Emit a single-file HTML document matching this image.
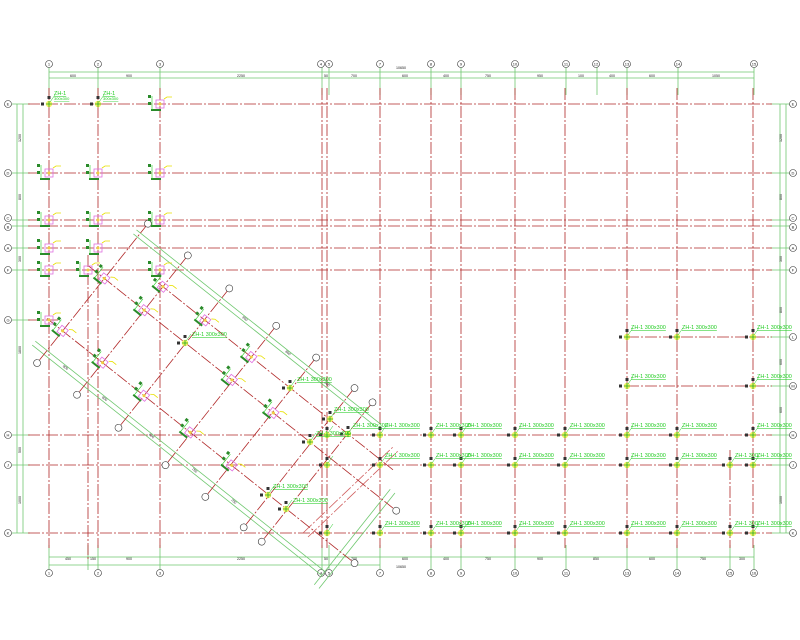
<!DOCTYPE html>
<html><head><meta charset="utf-8"><style>
html,body{margin:0;padding:0;background:#fff;}
svg{display:block;font-family:"Liberation Sans",sans-serif;}
.g{stroke:#b02828;stroke-width:0.8;stroke-dasharray:12 2 2 2;fill:none}
.d{stroke:#70c870;stroke-width:0.8;fill:none}
.c{fill:#fff;stroke:#333;stroke-width:0.6}
.t{font-size:4px;fill:#222;text-anchor:middle}
.lb{font-size:5.5px;fill:#22cc22;text-decoration:underline}
</style></head><body>
<svg width="800" height="640" viewBox="0 0 800 640" xmlns="http://www.w3.org/2000/svg">
<defs>
<g id="pc"><rect x="-4" y="-4" width="8" height="8" fill="none" stroke="#e070e0" stroke-width="0.8"/><circle r="1.5" fill="#f0d040"/><path d="M4,-5 l3,-2 h5" stroke="#e8e000" stroke-width="0.8" fill="none"/><rect x="-12" y="-9" width="3" height="3" fill="#2a8a2a"/><rect x="-12" y="-2" width="3" height="3" fill="#2a8a2a"/><rect x="-9" y="5" width="10" height="2" fill="#2a8a2a"/><path d="M-8,-8 v14" stroke="#22cc22" stroke-width="0.6"/></g>
<g id="yc"><circle r="3.2" fill="#f6f060"/><path d="M-3,0 h6 M0,-3 v6" stroke="#22aa22" stroke-width="0.8"/><rect x="-8" y="-1.5" width="3" height="3" fill="#333"/><rect x="-1.5" y="-8" width="3" height="3" fill="#333"/><path d="M1,-2 l5,-7" stroke="#22cc22" stroke-width="0.5"/></g>
</defs>

<g class="d">
<path d="M49,72 H754 M49,78 H754 M49,557 H754 M49,565 H380"/>
<path d="M17,104 V533 M23,104 V533 M780,104 V533 M786,104 V533"/>
<path d="M49,64 V95 M98,64 V95 M160,64 V95 M322,64 V95 M329,64 V95 M380,64 V95 M431,64 V95 M461,64 V95 M515,64 V95 M566,64 V95 M627,64 V95 M678,64 V95 M754,64 V95 M597,64 V95"/>
<path d="M49,545 V570 M88,545 V570 M98,545 V570 M160,545 V570 M322,545 V570 M329,545 V570 M380,545 V570 M431,545 V570 M461,545 V570 M515,545 V570 M566,545 V570 M627,545 V570 M677,545 V570 M730,545 V570 M754,545 V570"/>
<path d="M12,104 H30 M12,173 H30 M12,220 H30 M12,226 H30 M12,248 H30 M12,270 H30 M12,320 H30 M12,435 H30 M12,465 H30 M12,533 H30"/>
<path d="M770,104 H790 M770,173 H790 M770,220 H790 M770,226 H790 M770,248 H790 M770,270 H790 M770,337 H790 M770,386 H790 M770,435 H790 M770,465 H790 M770,533 H790"/>
</g>

<g class="g">
<path d="M49,88 V548 M98,88 V548 M160,88 V548 M322,88 V548 M327,88 V548 M380,88 V548 M431,88 V548 M461,88 V548 M515,88 V548 M565,88 V548 M627,88 V548 M677,88 V548 M753,88 V548 M88,255 V560 M730,450 V548"/>
<path d="M28,104 H772 M28,173 H772 M28,220 H772 M28,226 H772 M28,248 H772 M28,270 H772 M28,320 H60 M627,337 H772 M627,386 H772 M28,435 H772 M28,465 H772 M28,533 H772"/>
<path d="M303,533 L393,447 M308,537 L398,451" style="stroke:#d06060"/>
</g>

<g>
<g class="c"><circle cx="49" cy="64" r="3.5"/><circle cx="98" cy="64" r="3.5"/><circle cx="160" cy="64" r="3.5"/><circle cx="321" cy="64" r="3.5"/><circle cx="329" cy="64" r="3.5"/><circle cx="380" cy="64" r="3.5"/><circle cx="431" cy="64" r="3.5"/><circle cx="461" cy="64" r="3.5"/><circle cx="515" cy="64" r="3.5"/><circle cx="566" cy="64" r="3.5"/><circle cx="596" cy="64" r="3.5"/><circle cx="627" cy="64" r="3.5"/><circle cx="678" cy="64" r="3.5"/><circle cx="754" cy="64" r="3.5"/>
<circle cx="49" cy="573" r="3.5"/><circle cx="98" cy="573" r="3.5"/><circle cx="160" cy="573" r="3.5"/><circle cx="321" cy="573" r="3.5"/><circle cx="329" cy="573" r="3.5"/><circle cx="380" cy="573" r="3.5"/><circle cx="431" cy="573" r="3.5"/><circle cx="461" cy="573" r="3.5"/><circle cx="515" cy="573" r="3.5"/><circle cx="566" cy="573" r="3.5"/><circle cx="627" cy="573" r="3.5"/><circle cx="677" cy="573" r="3.5"/><circle cx="730" cy="573" r="3.5"/><circle cx="754" cy="573" r="3.5"/>
<circle cx="8" cy="104" r="3.5"/><circle cx="8" cy="173" r="3.5"/><circle cx="8" cy="218" r="3.5"/><circle cx="8" cy="227" r="3.5"/><circle cx="8" cy="248" r="3.5"/><circle cx="8" cy="270" r="3.5"/><circle cx="8" cy="320" r="3.5"/><circle cx="8" cy="435" r="3.5"/><circle cx="8" cy="465" r="3.5"/><circle cx="8" cy="533" r="3.5"/>
<circle cx="793" cy="104" r="3.5"/><circle cx="793" cy="173" r="3.5"/><circle cx="793" cy="218" r="3.5"/><circle cx="793" cy="227" r="3.5"/><circle cx="793" cy="248" r="3.5"/><circle cx="793" cy="270" r="3.5"/><circle cx="793" cy="337" r="3.5"/><circle cx="793" cy="386" r="3.5"/><circle cx="793" cy="435" r="3.5"/><circle cx="793" cy="465" r="3.5"/><circle cx="793" cy="533" r="3.5"/></g>
<g class="t"><text x="49" y="65.5">1</text><text x="98" y="65.5">2</text><text x="160" y="65.5">3</text><text x="321" y="65.5">4</text><text x="329" y="65.5">5</text><text x="380" y="65.5">7</text><text x="431" y="65.5">8</text><text x="461" y="65.5">9</text><text x="515" y="65.5">10</text><text x="566" y="65.5">11</text><text x="596" y="65.5">12</text><text x="627" y="65.5">13</text><text x="678" y="65.5">14</text><text x="754" y="65.5">15</text>
<text x="49" y="574.5">1</text><text x="98" y="574.5">2</text><text x="160" y="574.5">3</text><text x="321" y="574.5">4</text><text x="329" y="574.5">5</text><text x="380" y="574.5">7</text><text x="431" y="574.5">8</text><text x="461" y="574.5">9</text><text x="515" y="574.5">10</text><text x="566" y="574.5">11</text><text x="627" y="574.5">13</text><text x="677" y="574.5">14</text><text x="730" y="574.5">15</text><text x="754" y="574.5">16</text>
<text x="8" y="105.5">E</text><text x="8" y="174.5">D</text><text x="8" y="219.5">C</text><text x="8" y="228.5">B</text><text x="8" y="249.5">A</text><text x="8" y="271.5">F</text><text x="8" y="321.5">G</text><text x="8" y="436.5">H</text><text x="8" y="466.5">J</text><text x="8" y="534.5">K</text>
<text x="793" y="105.5">E</text><text x="793" y="174.5">D</text><text x="793" y="219.5">C</text><text x="793" y="228.5">B</text><text x="793" y="249.5">A</text><text x="793" y="271.5">F</text><text x="793" y="338.5">L</text><text x="793" y="387.5">M</text><text x="793" y="436.5">H</text><text x="793" y="466.5">J</text><text x="793" y="534.5">K</text></g>
</g>

<g class="t" style="font-size:3.6px">
<text x="401" y="69">10650</text>
<text x="73" y="77">600</text><text x="129" y="77">900</text><text x="241" y="77">2250</text><text x="326" y="77">50</text><text x="354" y="77">700</text><text x="405" y="77">600</text><text x="446" y="77">400</text><text x="488" y="77">750</text><text x="540" y="77">950</text><text x="581" y="77">100</text><text x="612" y="77">400</text><text x="652" y="77">600</text><text x="716" y="77">1050</text>
<text x="68" y="560">450</text><text x="93" y="560">150</text><text x="129" y="560">900</text><text x="241" y="560">2250</text><text x="326" y="560">50</text><text x="354" y="560">700</text><text x="405" y="560">600</text><text x="446" y="560">400</text><text x="488" y="560">750</text><text x="540" y="560">900</text><text x="596" y="560">850</text><text x="652" y="560">600</text><text x="703" y="560">750</text><text x="742" y="560">300</text><text x="401" y="568">10650</text>
<text transform="translate(21,138) rotate(-90)">1200</text><text transform="translate(21,197) rotate(-90)">800</text><text transform="translate(21,259) rotate(-90)">300</text><text transform="translate(21,350) rotate(-90)">1800</text><text transform="translate(21,450) rotate(-90)">500</text><text transform="translate(21,500) rotate(-90)">1000</text>
<text transform="translate(782,138) rotate(-90)">1200</text><text transform="translate(782,197) rotate(-90)">800</text><text transform="translate(782,259) rotate(-90)">300</text><text transform="translate(782,310) rotate(-90)">800</text><text transform="translate(782,362) rotate(-90)">600</text><text transform="translate(782,410) rotate(-90)">600</text><text transform="translate(782,500) rotate(-90)">1000</text>
</g>

<g transform="rotate(38.5)">
<g class="d"><path d="M250,95 H560 M250,100 H560 M240,245 H610 M240,250 H610 M610,140 V262 M616,140 V262"/></g>
<g class="g"><path d="M300,123 H600 M235,153 H624 M235,220 H624 M255,83 V261 M306,83 V261 M359,83 V261 M419,83 V261 M470,83 V261 M519,83 V261 M542,83 V261"/></g>
<g class="c"><circle cx="255" cy="83" r="3.5"/><circle cx="306" cy="83" r="3.5"/><circle cx="359" cy="83" r="3.5"/><circle cx="419" cy="83" r="3.5"/><circle cx="470" cy="83" r="3.5"/><circle cx="519" cy="83" r="3.5"/><circle cx="542" cy="83" r="3.5"/><circle cx="255" cy="261" r="3.5"/><circle cx="306" cy="261" r="3.5"/><circle cx="359" cy="261" r="3.5"/><circle cx="419" cy="261" r="3.5"/><circle cx="470" cy="261" r="3.5"/><circle cx="519" cy="261" r="3.5"/><circle cx="542" cy="261" r="3.5"/><circle cx="628" cy="153" r="3.5"/><circle cx="628" cy="220" r="3.5"/></g>
<use href="#pc" x="255" y="220"/><use href="#pc" x="306" y="220"/><use href="#pc" x="359" y="220"/><use href="#pc" x="418" y="220"/><use href="#pc" x="471" y="220"/>
<use href="#pc" x="255" y="153"/><use href="#pc" x="306" y="153"/><use href="#pc" x="418" y="153"/><use href="#pc" x="471" y="153"/>
<use href="#pc" x="306" y="123"/><use href="#pc" x="360" y="123"/><use href="#pc" x="419" y="123"/>
<g class="t" style="font-size:3.5px"><text x="280" y="248">900</text><text x="330" y="248">900</text><text x="390" y="248">800</text><text x="445" y="248">750</text><text x="495" y="248">700</text><text x="390" y="98">900</text><text x="445" y="98">800</text><text x="495" y="98">600</text></g>
</g>

<use href="#pc" x="160" y="104"/>
<use href="#pc" x="49" y="173"/><use href="#pc" x="98" y="173"/><use href="#pc" x="160" y="173"/>
<use href="#pc" x="49" y="220"/><use href="#pc" x="98" y="220"/><use href="#pc" x="160" y="220"/>
<use href="#pc" x="49" y="248"/><use href="#pc" x="98" y="248"/>
<use href="#pc" x="49" y="270"/><use href="#pc" x="88" y="270"/><use href="#pc" x="160" y="270"/>
<use href="#pc" x="49" y="320"/>

<g>
<use href="#yc" x="49" y="104"/><use href="#yc" x="98" y="104"/>
<use href="#yc" x="185" y="343"/><use href="#yc" x="290" y="388"/><use href="#yc" x="330" y="419"/><use href="#yc" x="348" y="434"/><use href="#yc" x="268" y="495"/><use href="#yc" x="286" y="509"/><use href="#yc" x="310" y="442"/>
<use href="#yc" x="627" y="337"/><use href="#yc" x="677" y="337"/><use href="#yc" x="753" y="337"/><use href="#yc" x="627" y="386"/><use href="#yc" x="753" y="386"/>
<use href="#yc" x="327" y="435"/><use href="#yc" x="380" y="435"/><use href="#yc" x="431" y="435"/><use href="#yc" x="461" y="435"/><use href="#yc" x="515" y="435"/><use href="#yc" x="565" y="435"/><use href="#yc" x="627" y="435"/><use href="#yc" x="677" y="435"/><use href="#yc" x="753" y="435"/>
<use href="#yc" x="327" y="465"/><use href="#yc" x="380" y="465"/><use href="#yc" x="431" y="465"/><use href="#yc" x="461" y="465"/><use href="#yc" x="515" y="465"/><use href="#yc" x="565" y="465"/><use href="#yc" x="627" y="465"/><use href="#yc" x="677" y="465"/><use href="#yc" x="730" y="465"/><use href="#yc" x="753" y="465"/>
<use href="#yc" x="327" y="533"/><use href="#yc" x="380" y="533"/><use href="#yc" x="431" y="533"/><use href="#yc" x="461" y="533"/><use href="#yc" x="515" y="533"/><use href="#yc" x="565" y="533"/><use href="#yc" x="627" y="533"/><use href="#yc" x="677" y="533"/><use href="#yc" x="730" y="533"/><use href="#yc" x="753" y="533"/>
</g>

<g class="lb">
<text x="54" y="95">ZH-1</text><text x="54" y="100" style="font-size:4px">300x300</text>
<text x="103" y="95">ZH-1</text><text x="103" y="100" style="font-size:4px">300x300</text>
<text x="192" y="336">ZH-1 300x300</text><text x="297" y="381">ZH-1 300x300</text><text x="334" y="411">ZH-1 300x300</text><text x="353" y="427">ZH-1 300x300</text><text x="273" y="488">ZH-1 300x300</text><text x="293" y="502">ZH-1 300x300</text><text x="316" y="435">ZH-1 300x300</text>
<text x="631" y="329">ZH-1 300x300</text><text x="682" y="329">ZH-1 300x300</text><text x="757" y="329">ZH-1 300x300</text><text x="631" y="378">ZH-1 300x300</text><text x="757" y="378">ZH-1 300x300</text>
<text x="385" y="427">ZH-1 300x300</text><text x="436" y="427">ZH-1 300x300</text><text x="467" y="427">ZH-1 300x300</text><text x="519" y="427">ZH-1 300x300</text><text x="570" y="427">ZH-1 300x300</text><text x="631" y="427">ZH-1 300x300</text><text x="682" y="427">ZH-1 300x300</text><text x="757" y="427">ZH-1 300x300</text>
<text x="385" y="457">ZH-1 300x300</text><text x="436" y="457">ZH-1 300x300</text><text x="467" y="457">ZH-1 300x300</text><text x="519" y="457">ZH-1 300x300</text><text x="570" y="457">ZH-1 300x300</text><text x="631" y="457">ZH-1 300x300</text><text x="682" y="457">ZH-1 300x300</text><text x="735" y="457">ZH-1 300</text><text x="757" y="457">ZH-1 300x300</text>
<text x="385" y="525">ZH-1 300x300</text><text x="436" y="525">ZH-1 300x300</text><text x="467" y="525">ZH-1 300x300</text><text x="519" y="525">ZH-1 300x300</text><text x="570" y="525">ZH-1 300x300</text><text x="631" y="525">ZH-1 300x300</text><text x="682" y="525">ZH-1 300x300</text><text x="735" y="525">ZH-1 300</text><text x="757" y="525">ZH-1 300x300</text>
</g>
</svg>
</body></html>
